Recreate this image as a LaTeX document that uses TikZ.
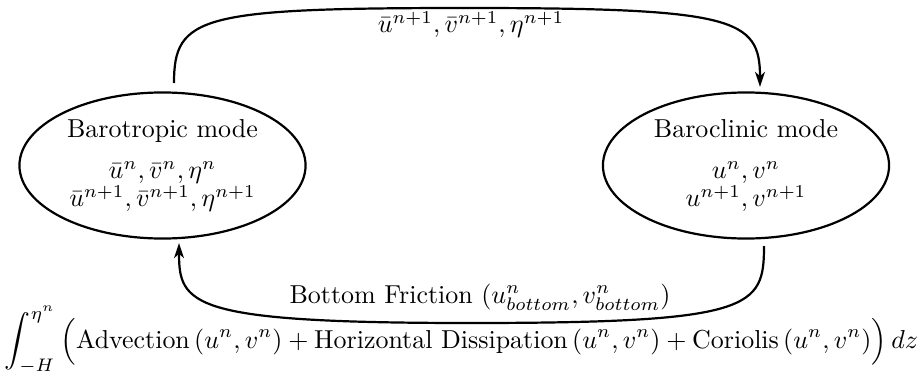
\documentclass[tikz,border=0pt]{standalone}
\usepackage{amsmath}
\usetikzlibrary{shapes.geometric,arrows.meta}
\begin{document}
\begin{tikzpicture}[x=0.3855pt,y=-0.3855pt,
  modebox/.style={draw,ellipse,line width=0.85pt,minimum width=110.3pt,minimum height=56.3pt,inner sep=0pt,align=center},
  flow/.style={line width=0.85pt,-{Stealth[length=5.8pt,width=3.8pt,inset=1.6pt]}},
  lbl/.style={anchor=base,inner sep=0pt}]
\useasboundingbox (0,0) rectangle (922,382);
\node[modebox] (baro) at (162.5,165.5) {Barotropic mode\\[3.8pt]$\bar{u}^n,\bar{v}^n,\eta^n$\\[-1.2pt]$\bar{u}^{n+1},\bar{v}^{n+1},\eta^{n+1}$};
\node[modebox] (bacl) at (746,165.5) {Baroclinic mode\\[3.8pt]$u^n,v^n$\\[-1.2pt]$u^{n+1},v^{n+1}$};
\coordinate (t1) at (174,83);
\coordinate (tm) at (466,8);
\coordinate (t2) at (760,87);
\coordinate (b1) at (764,246);
\coordinate (bm) at (470,323);
\coordinate (b2) at (179,243);
\draw[flow] (t1) .. controls (174,16) and (200,8) .. (tm) .. controls (734,8) and (760,18) .. (t2);
\draw[flow] (b1) .. controls (764,308) and (753,323) .. (bm) .. controls (190,323) and (179,305) .. (b2);
\node[lbl] (toplbl) at (471,32.5) {$\bar{u}^{n+1},\bar{v}^{n+1},\eta^{n+1}$};
\node[lbl] (botlbl) at (480,303.3) {Bottom Friction $(u^n_{bottom},v^n_{bottom})$};
\node[lbl] (integ) at (461.5,348) {$\displaystyle\int_{-H}^{\eta^n}\Big(\text{Advection}\,(u^n,v^n)+\text{Horizontal Dissipation}\,(u^n,v^n)+\text{Coriolis}\,(u^n,v^n)\Big)\,dz$};
\end{tikzpicture}
\end{document}
